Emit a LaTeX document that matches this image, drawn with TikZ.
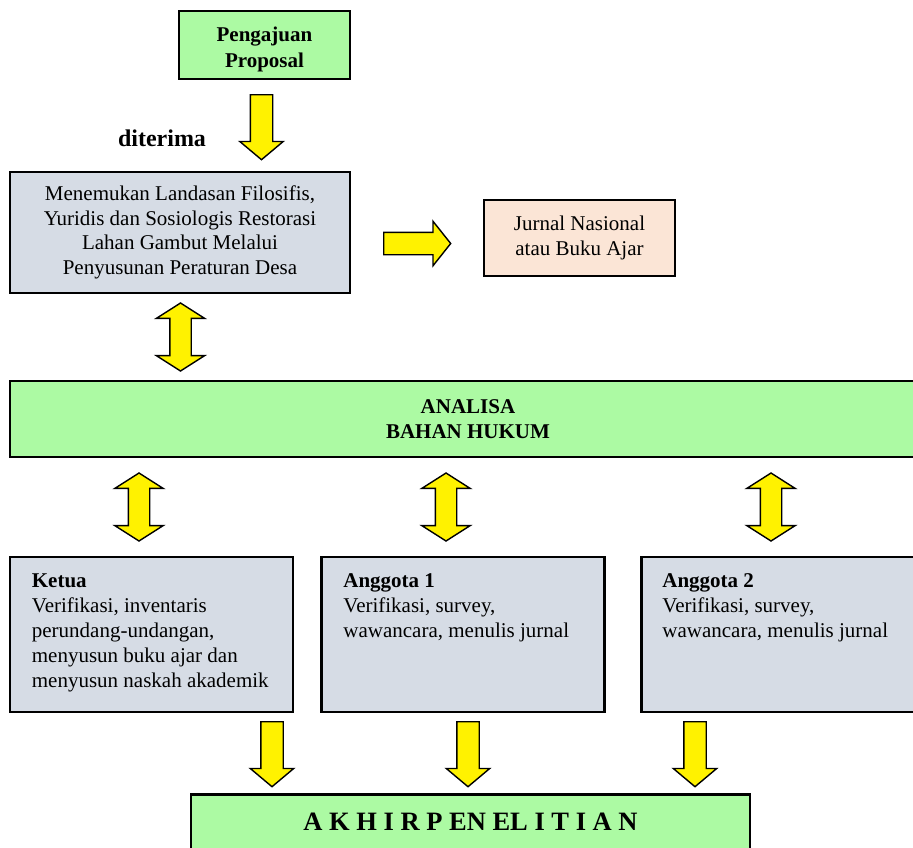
\documentclass[tikz,border=0pt]{standalone}
\usepackage{fontspec}
\setmainfont{Liberation Serif}
\usetikzlibrary{positioning,shapes.arrows}

\definecolor{boxgreen}{RGB}{172,250,163}
\definecolor{boxgrey}{RGB}{214,220,229}
\definecolor{boxpeach}{RGB}{251,229,214}

\tikzset{
  base/.style={draw=black, line width=2.6pt, inner sep=0pt, align=center,
    font=\fontsize{21}{24.5}\selectfont},
  greenbox/.style={base, fill=boxgreen, font=\fontsize{21}{24.5}\selectfont\bfseries},
  greybox/.style={base, fill=boxgrey},
  peachbox/.style={base, fill=boxpeach},
  memberbox/.style={greybox, minimum width=283pt, minimum height=155pt},
  memtext/.style={inner sep=0pt, align=left, font=\fontsize{21}{25}\selectfont},
  headtext/.style={inner sep=0pt, align=center, font=\fontsize{21}{25.5}\selectfont\bfseries},
  lbltext/.style={inner sep=0pt, font=\fontsize{24}{28}\selectfont\bfseries},
  titletext/.style={inner sep=0pt, font=\fontsize{26.5}{30}\selectfont\bfseries},
  yarrow/.style={draw=black, line width=1.4pt, fill=yellow, inner xsep=0pt, minimum width=0pt},
  downarr/.style={yarrow, single arrow, inner ysep=10.5pt, single arrow head extend=10.5pt,
    single arrow tip angle=100, minimum height=65pt, rotate=-90, anchor=tail},
  rightarr/.style={yarrow, single arrow, inner ysep=10.5pt, single arrow head extend=11pt,
    single arrow tip angle=103, minimum height=67pt, anchor=tail},
  dblarr/.style={yarrow, double arrow, inner ysep=10pt, double arrow head extend=13.5pt,
    double arrow tip angle=115, minimum height=68pt, rotate=90}
}

\begin{document}
\begin{tikzpicture}[x=1pt, y=-1pt]
  \useasboundingbox (0,0) rectangle (913,847);

  \node[greenbox, minimum width=171pt, minimum height=68pt] (prop) at (264.5,45) {};
  \node[headtext] (proptxt) at (264.5,49.5) {Pengajuan\\Proposal};
  \node[downarr] (arr1) at (261.5,94) {};
  \node[lbltext] (acc) at (162,138) {diterima};

  \node[greybox, minimum width=340pt, minimum height=121pt] (temu) at (180,232.5)
    {Menemukan Landasan Filosifis,\\Yuridis dan Sosiologis Restorasi\\Lahan Gambut Melalui\\Penyusunan Peraturan Desa};
  \node[rightarr] (arr2) at (383,243.5) {};
  \node[peachbox, minimum width=191pt, minimum height=76pt] (jurnal) at (579.5,238) {Jurnal Nasional\\atau Buku Ajar};
  \node[dblarr] (arr3) at (180.5,337) {};

  \node[greenbox, minimum width=916pt, minimum height=76pt] (analisa) at (468,419) {ANALISA\\BAHAN HUKUM};
  \node[dblarr] (arr4) at (139,507) {};
  \node[dblarr] (arr5) at (446,507) {};
  \node[dblarr] (arr6) at (771,507) {};

  \node[memberbox] (ketua) at (151.5,634.5) {};
  \node[memtext, below right=18pt and 23pt of ketua.north west] (ketuatxt)
    {\textbf{Ketua}\\Verifikasi, inventaris\\perundang-undangan,\\menyusun buku ajar dan\\menyusun naskah akademik};
  \node[memberbox] (agt1) at (463,634.5) {};
  \node[memtext, below right=18pt and 23pt of agt1.north west] (agt1txt)
    {\textbf{Anggota 1}\\Verifikasi, survey,\\wawancara, menulis jurnal};
  \node[memberbox] (agt2) at (783,634.5) {};
  \node[memtext, below right=18pt and 22pt of agt2.north west] (agt2txt)
    {\textbf{Anggota 2}\\Verifikasi, survey,\\wawancara, menulis jurnal};

  \node[downarr] (arr7) at (272,721) {};
  \node[downarr] (arr8) at (468,721) {};
  \node[downarr] (arr9) at (695,721) {};

  \node[greenbox, minimum width=559pt, minimum height=80pt, anchor=north] (akhir) at (470.5,793) {};
  \node[titletext] (akhirtxt) at (470.5,822) {A K H I R P EN EL I T I A N};
\end{tikzpicture}
\end{document}
